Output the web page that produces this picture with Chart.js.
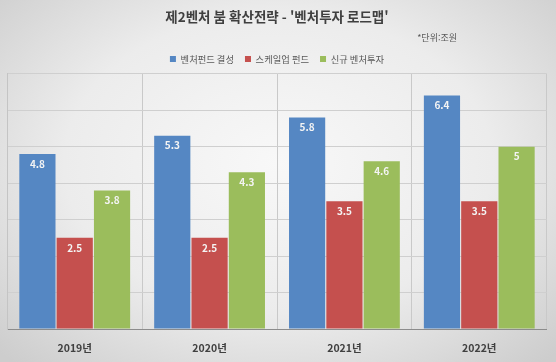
<!DOCTYPE html>
<html lang="ko">
<head>
<meta charset="utf-8">
<script src="https://cdn.jsdelivr.net/npm/chart.js@4/dist/chart.umd.min.js"></script>
<style>
  html, body { margin: 0; padding: 0; }
  body {
    width: 556px;
    height: 362px;
    overflow: hidden;
    background: radial-gradient(ellipse 70% 75% at 50% 45%, #f8f8f8 0%, #ececec 55%, #cdcdcd 100%);
  }
  #wrap { position: relative; width: 556px; height: 362px; }
</style>
</head>
<body>
<div id="wrap"><canvas id="chart"></canvas></div>
<script>
const FONT = "'Noto Sans CJK KR', 'Noto Sans', sans-serif";

const years = ["2019년", "2020년", "2021년", "2022년"];
const seriesNames = ["벤처펀드 결성", "스케일업 펀드", "신규 벤처투자"];
const ventureFund = [4.8, 5.3, 5.8, 6.4];
const scaleupFund = [2.5, 2.5, 3.5, 3.5];
const newInvestment = [3.8, 4.3, 4.6, 5];
const seriesColors = ["#5587c3", "#c5504e", "#9bbd5c"];
const unitNote = "*단위:조원";
const yMax = 7;

// white value labels sitting just inside the top of each bar
const barValueLabels = {
  id: "barValueLabels",
  afterDatasetsDraw(chart) {
    const { ctx } = chart;
    ctx.save();
    ctx.font = `bold 10px ${FONT}`;
    ctx.fillStyle = "#f4f4f4";
    ctx.textAlign = "center";
    ctx.textBaseline = "middle";
    chart.data.datasets.forEach((ds, i) => {
      chart.getDatasetMeta(i).data.forEach((bar, j) => {
        ctx.fillText(String(ds.data[j]), bar.x, bar.y + 10);
      });
    });
    ctx.restore();
  },
};

// unit note under the title, right of centre (not at the chart edge, so no subtitle)
const unitNotePlugin = {
  id: "unitNote",
  afterDraw(chart) {
    const { ctx } = chart;
    ctx.save();
    ctx.font = `9px ${FONT}`;
    ctx.fillStyle = "#595959";
    ctx.textAlign = "right";
    ctx.textBaseline = "middle";
    ctx.fillText(unitNote, 457, 38);
    ctx.restore();
  },
};

new Chart(document.getElementById("chart"), {
  type: "bar",
  data: {
    labels: years,
    datasets: [ventureFund, scaleupFund, newInvestment].map((data, i) => ({
      label: seriesNames[i],
      data,
      backgroundColor: seriesColors[i],
      categoryPercentage: 0.83,
      barPercentage: 0.97,
    })),
  },
  options: {
    responsive: true,
    maintainAspectRatio: false,
    animation: false,
    layout: { padding: { top: 0, bottom: 7.7, left: 7.3, right: 9.3 } },
    scales: {
      x: {
        grid: { color: "#c9c9c9", drawTicks: false, offset: true },
        border: { color: "#8c8c8c", width: 1 },
        ticks: { color: "#404040", padding: 12.7, font: { family: FONT, size: 10.5, weight: "bold" } },
        afterFit(scale) {
          scale.height = 25.3;
        },
      },
      y: {
        min: 0,
        max: yMax,
        ticks: { display: false, stepSize: 1 },
        grid: { color: "#cfcfcf", drawTicks: false },
        border: { color: "#c4c4c4" },
      },
    },
    plugins: {
      title: {
        display: true,
        text: "제2벤처 붐 확산전략 - '벤처투자 로드맵'",
        color: "#404040",
        font: { family: FONT, size: 13.5, weight: "bold" },
        padding: { top: 9, bottom: 18.2 },
      },
      legend: {
        position: "top",
        labels: {
          boxWidth: 6,
          boxHeight: 6,
          padding: 11,
          color: "#595959",
          font: { family: FONT, size: 9.3 },
        },
      },
      tooltip: { enabled: false },
    },
  },
  plugins: [barValueLabels, unitNotePlugin],
});
</script>
</body>
</html>
